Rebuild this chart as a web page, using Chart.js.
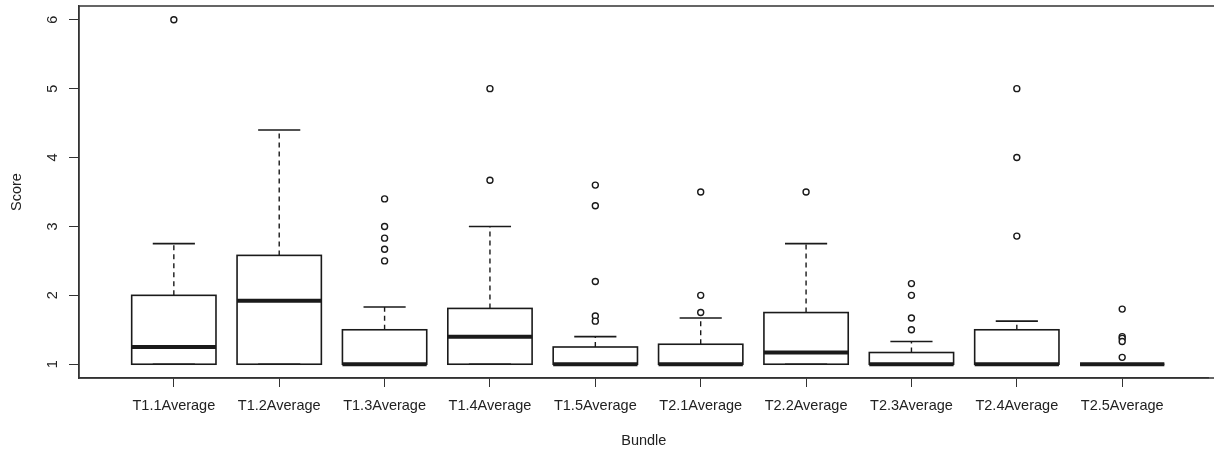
<!DOCTYPE html>
<html>
<head>
<meta charset="utf-8">
<script src="https://cdn.jsdelivr.net/npm/chart.js@4"></script>
<style>
  body { margin: 0; background: #fff; }
  #wrap { width: 1214px; height: 450px; overflow: hidden; }
</style>
</head>
<body>
<div id="wrap"><canvas id="boxChart"></canvas></div>
<script>
// box statistics per bundle
const categories = ['T1.1Average', 'T1.2Average', 'T1.3Average', 'T1.4Average', 'T1.5Average',
                    'T2.1Average', 'T2.2Average', 'T2.3Average', 'T2.4Average', 'T2.5Average'];
const q1 = [1, 1, 1, 1, 1, 1, 1, 1, 1, 1];
const medians = [1.25, 1.92, 1, 1.4, 1, 1, 1.17, 1, 1, 1];
const q3 = [2, 2.58, 1.5, 1.81, 1.25, 1.29, 1.75, 1.17, 1.5, 1];
const whiskerLow = [1, 1, 1, 1, 1, 1, 1, 1, 1, 1];
const whiskerHigh = [2.75, 4.4, 1.83, 3, 1.4, 1.67, 2.75, 1.33, 1.625, 1];
const outliers = [
  [6],
  [],
  [3.4, 3, 2.83, 2.67, 2.5],
  [5, 3.67],
  [3.6, 3.3, 2.2, 1.7, 1.625],
  [3.5, 2, 1.75],
  [3.5],
  [2.17, 2, 1.67, 1.5],
  [5, 4, 2.86],
  [1.8, 1.4, 1.375, 1.33, 1.1]
];
const yTicks = [1, 2, 3, 4, 5, 6];

const FONT = 'Liberation Sans, Arial, sans-serif';
const INK = '#1a1a1a';

Chart.defaults.font.family = FONT;
Chart.defaults.font.size = 14.5;
Chart.defaults.color = '#222';

// box outlines, whiskers, caps, medians, rotated y labels and the frame
const boxExtras = {
  id: 'boxExtras',
  afterDatasetDraw(chart, args) {
    // right after the white box fills (dataset 0), before the outliers
    if (args.index !== 0) return;
    const {ctx, scales: {x, y}} = chart;
    ctx.save();
    ctx.strokeStyle = INK;
    categories.forEach((c, i) => {
      const cx = x.getPixelForValue(i + 1);
      const halfBox = x.getPixelForValue(i + 1.4) - cx;
      const halfCap = x.getPixelForValue(i + 1.2) - cx;
      const yq1 = y.getPixelForValue(q1[i]);
      const yq3 = y.getPixelForValue(q3[i]);

      // dashed whiskers
      ctx.lineWidth = 1.4;
      ctx.setLineDash([5, 4]);
      ctx.beginPath();
      if (whiskerHigh[i] > q3[i]) {
        ctx.moveTo(cx, yq3);
        ctx.lineTo(cx, y.getPixelForValue(whiskerHigh[i]));
      }
      if (whiskerLow[i] < q1[i]) {
        ctx.moveTo(cx, yq1);
        ctx.lineTo(cx, y.getPixelForValue(whiskerLow[i]));
      }
      ctx.stroke();

      // caps
      ctx.setLineDash([]);
      ctx.lineWidth = 1.6;
      ctx.beginPath();
      [whiskerHigh[i], whiskerLow[i]].forEach(v => {
        const py = y.getPixelForValue(v);
        ctx.moveTo(cx - halfCap, py);
        ctx.lineTo(cx + halfCap, py);
      });
      ctx.stroke();

      // box outline
      ctx.lineWidth = 1.6;
      ctx.strokeRect(cx - halfBox, yq3, halfBox * 2, yq1 - yq3);

      // median
      ctx.lineWidth = 4;
      ctx.beginPath();
      const my = y.getPixelForValue(medians[i]);
      ctx.moveTo(cx - halfBox, my);
      ctx.lineTo(cx + halfBox, my);
      ctx.stroke();
    });
    ctx.restore();
  },
  afterDatasetsDraw(chart) {
    const {ctx, chartArea: a, scales: {y}} = chart;
    ctx.save();
    // frame: top, left and bottom; the right side falls outside the picture
    ctx.lineWidth = 1.4;
    ctx.strokeStyle = '#333';
    ctx.beginPath();
    ctx.moveTo(a.left, a.bottom);
    ctx.lineTo(a.left, a.top);
    ctx.lineTo(chart.width, a.top);
    ctx.moveTo(a.left, a.bottom);
    ctx.lineTo(chart.width, a.bottom);
    ctx.stroke();

    // y tick labels, rotated like R draws them
    ctx.fillStyle = '#222';
    ctx.font = '14.5px ' + FONT;
    ctx.textAlign = 'center';
    ctx.textBaseline = 'middle';
    yTicks.forEach(v => {
      ctx.save();
      ctx.translate(53, y.getPixelForValue(v));
      ctx.rotate(-Math.PI / 2);
      ctx.fillText(String(v), 0, 0);
      ctx.restore();
    });
    ctx.restore();
  }
};

new Chart(document.getElementById('boxChart'), {
  type: 'bar',
  data: {
    datasets: [
      {
        type: 'bar',
        order: 0,
        data: categories.map((c, i) => ({x: i + 1, y: [q1[i], q3[i]]})),
        backgroundColor: '#fff',
        borderWidth: 0,
        barPercentage: 0.8,
        categoryPercentage: 1
      },
      {
        type: 'scatter',
        order: -1,
        data: outliers.flatMap((list, i) => list.map(v => ({x: i + 1, y: v}))),
        pointStyle: 'circle',
        pointRadius: 3,
        pointBorderWidth: 1.4,
        pointBackgroundColor: '#fff',
        pointBorderColor: INK
      }
    ]
  },
  options: {
    responsive: true,
    maintainAspectRatio: false,
    animation: false,
    devicePixelRatio: 1,
    layout: {padding: {top: 6, right: 0, left: 0, bottom: 0}},
    plugins: {legend: {display: false}, tooltip: {enabled: false}},
    scales: {
      x: {
        type: 'linear',
        offset: false,
        min: 0.1,
        max: 10.82,
        afterBuildTicks: s => { s.ticks = categories.map((c, i) => ({value: i + 1})); },
        afterFit: s => { s.height = 72; },
        ticks: {
          autoSkip: false,
          maxRotation: 0,
          padding: 10,
          callback: v => categories[v - 1]
        },
        grid: {drawOnChartArea: false, drawTicks: true, tickLength: 9, color: '#333', offset: false},
        border: {display: true, color: '#333', width: 1.4},
        title: {display: true, text: 'Bundle', padding: {top: 0, bottom: 0}}
      },
      y: {
        type: 'linear',
        min: 0.8,
        max: 6.2,
        afterBuildTicks: s => { s.ticks = yTicks.map(v => ({value: v})); },
        afterFit: s => { s.width = 79; },
        ticks: {display: false},
        grid: {drawOnChartArea: false, drawTicks: true, tickLength: 10, color: '#333'},
        border: {display: true, color: '#333', width: 1.4},
        title: {display: true, text: 'Score', padding: {top: 8, bottom: 0}}
      }
    }
  },
  plugins: [boxExtras]
});
</script>
</body>
</html>
